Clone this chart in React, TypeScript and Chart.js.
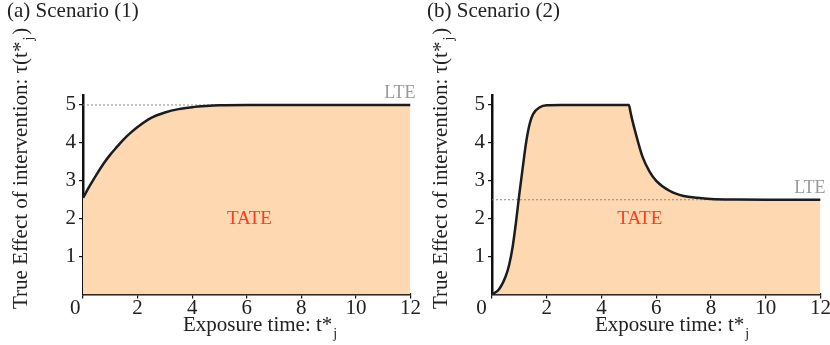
import React, { useEffect, useRef } from 'react';
import { Chart, registerables } from 'chart.js';

Chart.register(...registerables);

// ---- Data ----
const T_A = [0, 0.25, 0.5, 0.75, 1, 1.25, 1.5, 1.75, 2, 2.5, 3, 3.5, 4, 4.5, 5, 6, 8, 10, 12];
const TAU_A = [2.55, 2.87, 3.17, 3.45, 3.69, 3.9, 4.1, 4.27, 4.42, 4.66, 4.8, 4.89, 4.94, 4.97, 4.99, 5.0, 5.0, 5.0, 5.0];

const T_B = [0, 0.25, 0.5, 0.625, 0.75, 0.875, 1, 1.125, 1.25, 1.375, 1.5, 1.75, 2, 2.5, 3, 4, 5, 5.0625, 5.125, 5.25, 5.5, 5.75, 6, 6.5, 7, 7.5, 8, 9, 10, 11, 12];
const TAU_B = [0, 0.13, 0.48, 0.78, 1.24, 1.9, 2.66, 3.36, 4.03, 4.5, 4.76, 4.94, 4.99, 5.0, 5.0, 5.0, 5.0, 4.8, 4.6, 4.25, 3.63, 3.25, 3.0, 2.73, 2.6, 2.55, 2.52, 2.505, 2.5, 2.5, 2.5];

const LTE_A = 5;
const LTE_B = 2.5;

const X_TICKS = [0, 2, 4, 6, 8, 10, 12];
const Y_TICKS = [1, 2, 3, 4, 5];

const TITLE_A = '(a) Scenario (1)';
const TITLE_B = '(b) Scenario (2)';
const Y_TITLE = 'True Effect of intervention: \u03c4(t*';
const Y_TITLE_SUB = 'j';
const Y_TITLE_END = ')';
const X_TITLE = 'Exposure time: t*';
const X_TITLE_SUB = 'j';
const TATE_LABEL = 'TATE';
const LTE_LABEL = 'LTE';

const FAMILY = '"Liberation Serif", "Times New Roman", serif';
const FILL = '#fdd8b1';
const LINE = '#1c1c1c';
const TEXT = '#222222';

interface Panel {
  title: string;
  t: number[];
  tau: number[];
  lte: number;
  tate: [number, number];
  width: number;
  left: number;
  axisW: number;
  padRight: number;
  xTitleX: number;
  zeroPad: string;
}

const PANELS: Panel[] = [
  { title: TITLE_A, t: T_A, tau: TAU_A, lte: LTE_A, tate: [6.1, 1.86], width: 420, left: 0, axisW: 83, padRight: 7, xTitleX: 183, zeroPad: '   ' },
  { title: TITLE_B, t: T_B, tau: TAU_B, lte: LTE_B, tate: [5.4, 1.86], width: 410, left: 420, axisW: 72, padRight: 8, xTitleX: 175, zeroPad: '    ' },
];

function PanelChart({ p }: { p: Panel }) {
  const ref = useRef<HTMLCanvasElement | null>(null);
  useEffect(() => {
    if (!ref.current) return;
    const textPlugin = {
      id: 'texts',
      afterDraw(chart: any) {
        const ctx = chart.ctx as CanvasRenderingContext2D;
        const xs = chart.scales.x;
        const ys = chart.scales.y;
        const area = chart.chartArea;
        ctx.save();
        ctx.fillStyle = TEXT;
        ctx.textBaseline = 'alphabetic';
        // panel title
        ctx.textAlign = 'left';
        ctx.font = `21px ${FAMILY}`;
        ctx.fillText(p.title, 7, 17);
        // y title (rotated)
        ctx.save();
        ctx.translate(26.5, 309);
        ctx.rotate(-Math.PI / 2);
        ctx.font = `21px ${FAMILY}`;
        ctx.fillText(Y_TITLE, 0, 0);
        const w1 = ctx.measureText(Y_TITLE).width;
        ctx.font = `14px ${FAMILY}`;
        ctx.fillText(Y_TITLE_SUB, w1 + 1, 6);
        const w2 = ctx.measureText(Y_TITLE_SUB).width;
        ctx.font = `21px ${FAMILY}`;
        ctx.fillText(Y_TITLE_END, w1 + w2 + 3, 0);
        ctx.restore();
        // x title
        ctx.font = `21px ${FAMILY}`;
        ctx.fillText(X_TITLE, p.xTitleX, 331);
        const wx = ctx.measureText(X_TITLE).width;
        ctx.font = `14px ${FAMILY}`;
        ctx.fillText(X_TITLE_SUB, p.xTitleX + wx + 1, 338);
        // TATE
        ctx.fillStyle = '#ff3b1f';
        ctx.font = `19px ${FAMILY}`;
        ctx.textAlign = 'center';
        ctx.fillText(TATE_LABEL, xs.getPixelForValue(p.tate[0]), ys.getPixelForValue(p.tate[1]));
        // LTE
        ctx.fillStyle = '#9a9a9a';
        ctx.font = `18px ${FAMILY}`;
        ctx.textAlign = 'right';
        ctx.fillText(LTE_LABEL, area.right + 5, ys.getPixelForValue(p.lte) - 7);
        ctx.restore();
      },
    };

    const chart = new Chart(ref.current, {
      type: 'line',
      data: {
        datasets: [
          {
            data: p.t.map((x, i) => ({ x, y: p.tau[i] })),
            borderColor: LINE,
            borderWidth: 2.5,
            backgroundColor: FILL,
            fill: 'origin',
            pointRadius: 0,
            cubicInterpolationMode: 'monotone',
          },
          {
            data: [
              { x: 0, y: p.lte },
              { x: 12, y: p.lte },
            ],
            borderColor: '#8a8a8a',
            borderWidth: 1,
            borderDash: [2, 2],
            pointRadius: 0,
            fill: false,
          },
        ],
      },
      options: {
        animation: false,
        responsive: false,
        devicePixelRatio: 1,
        layout: { padding: { top: 95.5, left: 0, right: p.padRight, bottom: 0 } },
        plugins: {
          legend: { display: false },
          tooltip: { enabled: false },
          filler: { drawTime: 'beforeDatasetsDraw' },
        } as any,
        scales: {
          x: {
            type: 'linear',
            min: 0,
            max: 12,
            afterBuildTicks: (s: any) => {
              s.ticks = X_TICKS.map((v) => ({ value: v }));
            },
            afterFit: (s: any) => {
              s.height = 50.5;
            },
            grid: { display: true, drawOnChartArea: false, drawTicks: true, tickLength: 4, color: '#111', lineWidth: 1.2 },
            border: { display: true, color: '#111', width: 2.5 },
            ticks: {
              autoSkip: false,
              maxRotation: 0,
              padding: -1,
              color: TEXT,
              font: { family: FAMILY, size: 21, lineHeight: 1 },
              callback: (v: any) => (Number(v) === 0 ? '0' + p.zeroPad : String(v)),
            },
          },
          y: {
            type: 'linear',
            min: 0,
            max: 5.25,
            afterBuildTicks: (s: any) => {
              s.ticks = Y_TICKS.map((v) => ({ value: v }));
            },
            afterFit: (s: any) => {
              s.width = p.axisW;
            },
            grid: { display: true, drawOnChartArea: false, drawTicks: true, tickLength: 4, color: '#111', lineWidth: 1.2 },
            border: { display: true, color: '#111', width: 2.5 },
            ticks: {
              autoSkip: false,
              padding: 3,
              color: TEXT,
              font: { family: FAMILY, size: 21, lineHeight: 1 },
              callback: (v: any) => String(v),
            },
          },
        },
      } as any,
      plugins: [textPlugin],
    });
    return () => chart.destroy();
  }, [p]);
  return (
    <canvas
      ref={ref}
      width={p.width}
      height={345}
      style={{ position: 'absolute', left: p.left, top: 0, width: p.width, height: 345, display: 'block' }}
    />
  );
}

export default function App() {
  return (
    <div style={{ position: 'absolute', left: 0, top: 0, width: 830, height: 345, background: '#ffffff', overflow: 'hidden' }}>
      {PANELS.map((p, i) => (
        <PanelChart key={i} p={p} />
      ))}
    </div>
  );
}
